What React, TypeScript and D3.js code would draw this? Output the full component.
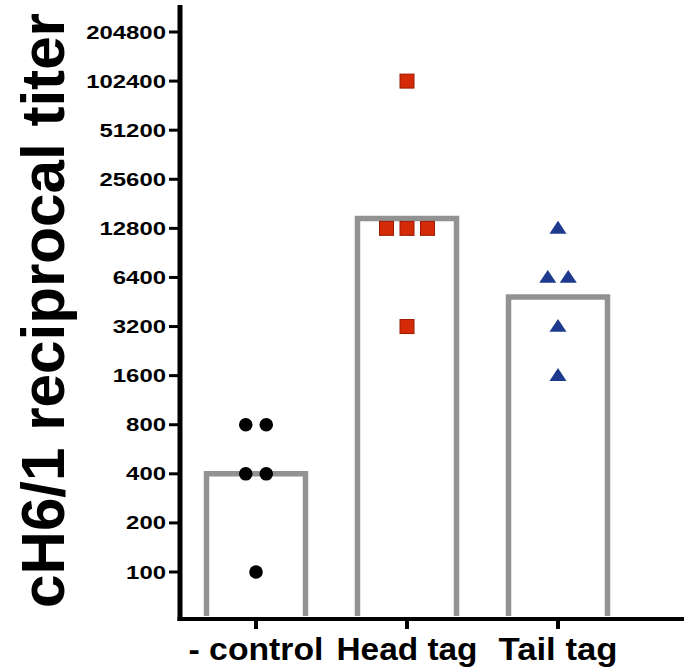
import React, { useRef, useEffect } from "react";
import * as d3 from "d3";

// groups along the x axis
const categories = ["- control", "Head tag", "Tail tag"];
// bar heights (geometric means)
const barValues = [400, 14700, 4850];
// individual titers per group
const controlValues = [800, 800, 400, 400, 100];
const headValues = [102400, 12800, 12800, 12800, 3200];
const tailValues = [12800, 6400, 6400, 3200, 1600];
const tickValues = [100, 200, 400, 800, 1600, 3200, 6400, 12800, 25600, 51200, 102400, 204800];

const App = () => {
  const chartRef = useRef(null);

  useEffect(() => {
    const el = chartRef.current;
    d3.select(el).selectAll("*").remove();

    const width = 686;
    const height = 667;
    const axisX = 180;
    const axisY = 619;
    const barWidth = 99;
    const jitter = 20.5;
    const font = "'Liberation Sans', Arial, sans-serif";

    const svg = d3
      .select(el)
      .append("svg")
      .attr("width", width)
      .attr("height", height)
      .style("position", "absolute")
      .style("left", 0)
      .style("top", 0)
      .style("background", "white");

    const y = d3.scaleLog().base(2).domain([100, 204800]).range([572, 32]);
    const x = d3.scalePoint().domain(categories).range([256, 558]);

    // bars (open at the bottom, run into the axis)
    svg
      .selectAll(".bar")
      .data(categories)
      .enter()
      .append("path")
      .attr("class", "bar")
      .attr("d", (d, i) => {
        const x0 = x(d) - barWidth / 2;
        const x1 = x(d) + barWidth / 2;
        const top = y(barValues[i]);
        return `M${x0},${axisY - 3}V${top}H${x1}V${axisY - 3}`;
      })
      .attr("fill", "none")
      .attr("stroke", "#929292")
      .attr("stroke-width", 5.5);

    // spread repeated values horizontally
    const spread = (values, cat) => {
      const counts = d3.rollup(values, (v) => v.length, (v) => v);
      const seen = new Map();
      return values.map((v) => {
        const n = counts.get(v);
        const k = seen.get(v) || 0;
        seen.set(v, k + 1);
        return { v, cx: x(cat) + (k - (n - 1) / 2) * jitter, cy: y(v) };
      });
    };

    svg
      .selectAll(".dot")
      .data(spread(controlValues, categories[0]))
      .enter()
      .append("circle")
      .attr("cx", (d) => d.cx)
      .attr("cy", (d) => d.cy)
      .attr("r", 6.8)
      .attr("fill", "black");

    const sq = 14;
    svg
      .selectAll(".sq")
      .data(spread(headValues, categories[1]))
      .enter()
      .append("rect")
      .attr("x", (d) => d.cx - sq / 2)
      .attr("y", (d) => d.cy - sq / 2)
      .attr("width", sq)
      .attr("height", sq)
      .attr("fill", "#d42a08")
      .attr("stroke", "#9e1800")
      .attr("stroke-width", 1);

    const tri = d3.symbol().type(d3.symbolTriangle).size(95);
    svg
      .selectAll(".tri")
      .data(spread(tailValues, categories[2]))
      .enter()
      .append("path")
      .attr("d", tri)
      .attr("transform", (d) => `translate(${d.cx},${d.cy + 1}) scale(1.15,1)`)
      .attr("fill", "#1d3a8e");

    // y axis
    svg
      .append("line")
      .attr("x1", axisX)
      .attr("x2", axisX)
      .attr("y1", 5)
      .attr("y2", axisY + 2)
      .attr("stroke", "black")
      .attr("stroke-width", 5);

    svg
      .selectAll(".ytick")
      .data(tickValues)
      .enter()
      .append("line")
      .attr("x1", 169)
      .attr("x2", axisX)
      .attr("y1", (d) => y(d))
      .attr("y2", (d) => y(d))
      .attr("stroke", "black")
      .attr("stroke-width", 3);

    svg
      .selectAll(".ylabel")
      .data(tickValues)
      .enter()
      .append("text")
      .attr("x", 166)
      .attr("y", (d) => y(d) + 6.5)
      .attr("text-anchor", "end")
      .attr("font-family", font)
      .attr("font-weight", "bold")
      .attr("font-size", "18px")
      .attr("textLength", (d) => String(d).length * 13.3)
      .attr("lengthAdjust", "spacingAndGlyphs")
      .text((d) => d);

    // x axis
    svg
      .append("line")
      .attr("x1", axisX - 2.5)
      .attr("x2", 684)
      .attr("y1", axisY)
      .attr("y2", axisY)
      .attr("stroke", "black")
      .attr("stroke-width", 4);

    svg
      .selectAll(".xtick")
      .data(categories)
      .enter()
      .append("line")
      .attr("x1", (d) => x(d))
      .attr("x2", (d) => x(d))
      .attr("y1", axisY)
      .attr("y2", 629)
      .attr("stroke", "black")
      .attr("stroke-width", 4);

    const xLens = [135, 141, 119];
    svg
      .selectAll(".xlabel")
      .data(categories)
      .enter()
      .append("text")
      .attr("x", (d) => x(d))
      .attr("y", 660)
      .attr("text-anchor", "middle")
      .attr("font-family", font)
      .attr("font-weight", "bold")
      .attr("font-size", "31px")
      .attr("textLength", (d, i) => xLens[i])
      .attr("lengthAdjust", "spacingAndGlyphs")
      .text((d) => d);

    // y title
    svg
      .append("text")
      .attr("transform", "translate(64,310.5) rotate(-90)")
      .attr("text-anchor", "middle")
      .attr("font-family", font)
      .attr("font-weight", "bold")
      .attr("font-size", "62px")
      .attr("textLength", 595)
      .attr("lengthAdjust", "spacingAndGlyphs")
      .text("cH6/1 reciprocal titer");
  }, []);

  return <div ref={chartRef}></div>;
};

export default App;
